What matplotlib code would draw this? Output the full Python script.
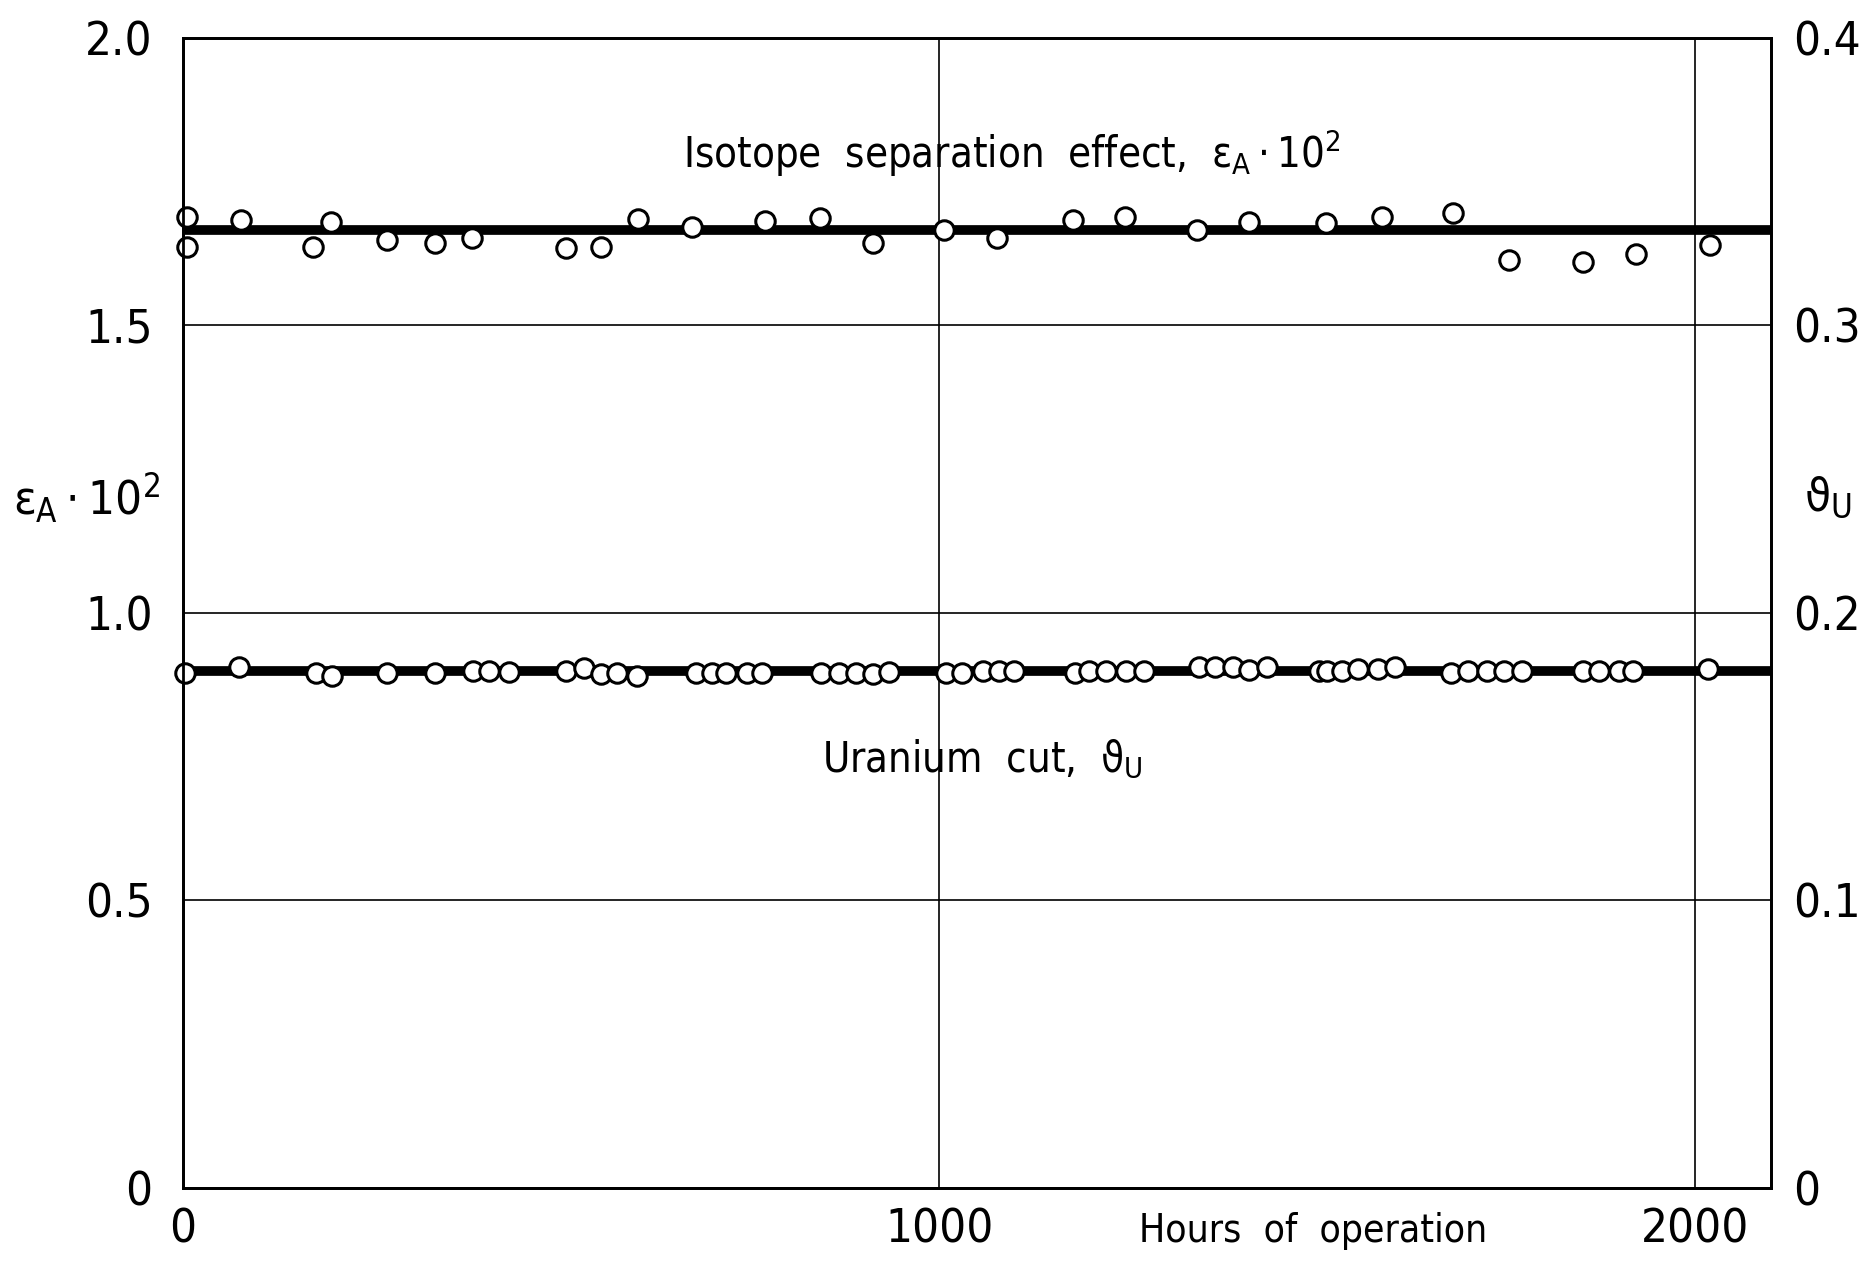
import numpy as np
import matplotlib.pyplot as plt

plt.rcParams['font.family'] = ['DejaVu Sans']
plt.rcParams['font.stretch'] = 'condensed'
plt.rcParams['mathtext.fontset'] = 'custom'
plt.rcParams['mathtext.rm'] = 'DejaVu Sans:stretch=condensed'
plt.rcParams['mathtext.it'] = 'DejaVu Sans:stretch=condensed'

# isotope separation effect eps_A*100 (left axis)
hours_eps = [5, 5, 77, 172, 196, 270, 333, 382, 507, 553, 602, 673, 770, 843, 913,
             1007, 1077, 1177, 1246, 1341, 1410, 1512, 1585, 1679, 1753, 1851, 1922, 2020]
eps = [1.688, 1.636, 1.683, 1.636, 1.680, 1.649, 1.643, 1.652, 1.634, 1.636, 1.685, 1.671,
       1.682, 1.687, 1.643, 1.665, 1.652, 1.683, 1.689, 1.666, 1.680, 1.678, 1.688, 1.696,
       1.614, 1.611, 1.624, 1.640]
eps_fit = 1.665

# uranium cut theta_U, plotted on the left scale (x5)
hours_cut = [3, 74, 176, 197, 270, 333, 383, 404, 431, 507, 530, 553, 574, 600, 678, 700, 718,
             746, 766, 844, 867, 890, 912, 933, 1009, 1030, 1058, 1079, 1099, 1179, 1198, 1221,
             1247, 1271, 1344, 1365, 1389, 1410, 1434, 1502, 1513, 1533, 1554, 1580, 1603,
             1677, 1700, 1724, 1747, 1771, 1851, 1873, 1899, 1918, 2017]
cut_left = [0.896, 0.905, 0.896, 0.891, 0.896, 0.896, 0.899, 0.899, 0.897, 0.898, 0.904, 0.893,
            0.896, 0.890, 0.896, 0.896, 0.896, 0.896, 0.895, 0.896, 0.896, 0.896, 0.893, 0.897,
            0.896, 0.896, 0.899, 0.899, 0.899, 0.896, 0.899, 0.899, 0.899, 0.899, 0.905, 0.905,
            0.905, 0.901, 0.905, 0.899, 0.899, 0.899, 0.902, 0.902, 0.905, 0.896, 0.899, 0.899,
            0.899, 0.899, 0.899, 0.899, 0.899, 0.899, 0.902]
cut_fit = 0.898

fig = plt.figure(figsize=(18.74, 12.61), dpi=100)
ax = fig.add_axes([0.0977, 0.058, 0.8473, 0.912])

ax.axhline(eps_fit, color='k', lw=7, zorder=2)
ax.axhline(cut_fit, color='k', lw=7, zorder=2)
ax.plot(hours_eps, eps, 'o', ms=14, mfc='white', mec='k', mew=2.2, zorder=3, clip_on=False)
ax.plot(hours_cut, cut_left, 'o', ms=14, mfc='white', mec='k', mew=2.2, zorder=3, clip_on=False)

ax.set_xlim(0, 2100)
ax.set_ylim(0, 2.0)
ax.set_xticks([0, 1000, 2000])
ax.set_yticks([0, 0.5, 1.0, 1.5, 2.0])
ax.set_yticklabels(['0', '0.5', '1.0', '1.5', '2.0'])
ax.grid(True, color='k', lw=1.2)
ax.tick_params(axis='y', length=0, labelsize=34, pad=22)
ax.tick_params(axis='x', length=0, labelsize=34, pad=14)
for s in ax.spines.values():
    s.set_linewidth(2)

ax2 = ax.twinx()
ax2.set_ylim(0, 0.4)
ax2.set_yticks([0, 0.1, 0.2, 0.3, 0.4])
ax2.set_yticklabels(['0', '0.1', '0.2', '0.3', '0.4'])
ax2.tick_params(length=0, labelsize=34, pad=16)
for s in ax2.spines.values():
    s.set_linewidth(2)

ax.text(-0.061, 0.6, r'$\varepsilon_A\cdot 10^2$', transform=ax.transAxes, fontsize=34,
        ha='center', va='center')
ax.text(1.036, 0.6, r'$\vartheta_U$', transform=ax.transAxes, fontsize=34,
        ha='center', va='center')
ax.text(1096, 1.80, r'Isotope  separation  effect,  $\varepsilon_A\cdot 10^2$', fontsize=30,
        ha='center', va='center')
ax.text(1057, 0.745, r'Uranium  cut,  $\vartheta_U$', fontsize=30, ha='center', va='center')
ax.text(1495, -0.075, 'Hours  of  operation', fontsize=28, ha='center', va='center')

plt.savefig('out.png', dpi=100)
